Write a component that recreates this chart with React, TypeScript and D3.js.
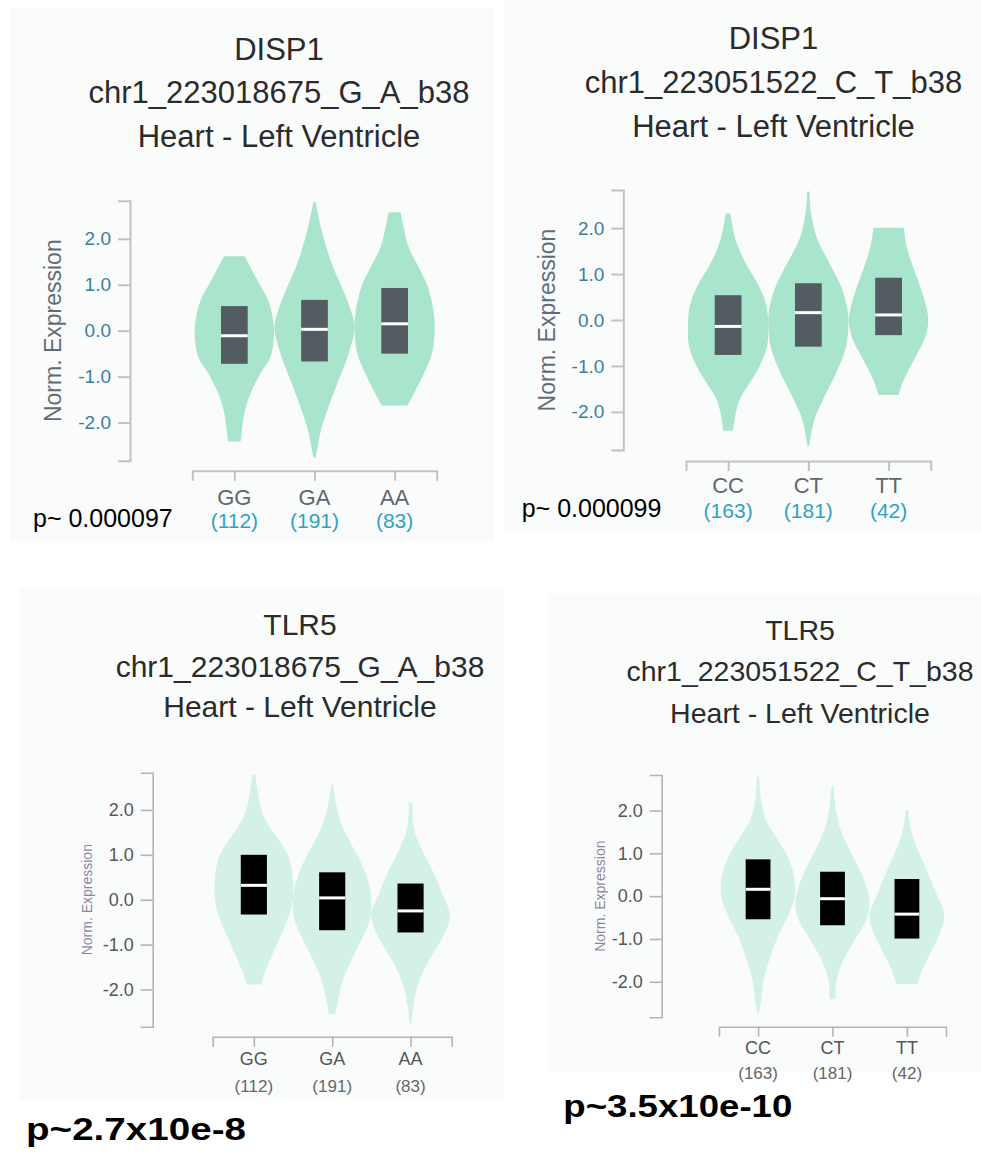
import React, { useEffect, useRef } from "react";
import * as d3 from "d3";

// ---- values ----
const tissue = "Heart - Left Ventricle";
const genes = ["DISP1", "DISP1", "TLR5", "TLR5"];
const variants = [
  "chr1_223018675_G_A_b38",
  "chr1_223051522_C_T_b38",
  "chr1_223018675_G_A_b38",
  "chr1_223051522_C_T_b38",
];
const genotypes = [
  ["GG", "GA", "AA"],
  ["CC", "CT", "TT"],
  ["GG", "GA", "AA"],
  ["CC", "CT", "TT"],
];
const sampleCounts = [
  [112, 191, 83],
  [163, 181, 42],
  [112, 191, 83],
  [163, 181, 42],
];
const pLabels = ["p~ 0.000097", "p~ 0.000099", "p~2.7x10e-8", "p~3.5x10e-10"];
const yTicks = [-2, -1, 0, 1, 2];
const yDomain = [-2.83, 2.83];

// violin outlines: [norm. expression, relative half width]
const violinsDisp1Ga = [
  [[1.62, 0.26], [1.09, 0.58], [0.73, 0.81], [0.37, 0.94], [-0.07, 0.99], [-0.57, 0.9], [-0.93, 0.65], [-1.37, 0.4], [-1.8, 0.25], [-2.41, 0.16]],
  [[2.8, 0.03], [2.18, 0.18], [1.46, 0.43], [0.95, 0.68], [0.51, 0.88], [0.08, 1.0], [-0.5, 0.85], [-1.08, 0.6], [-1.66, 0.35], [-2.1, 0.18], [-2.53, 0.08], [-2.76, 0.03]],
  [[2.58, 0.15], [1.82, 0.35], [1.38, 0.6], [0.95, 0.83], [0.37, 0.98], [0.01, 1.0], [-0.5, 0.93], [-0.93, 0.73], [-1.37, 0.48], [-1.63, 0.32]],
];
const violinsDisp1Ct = [
  [[2.32, 0.06], [1.74, 0.19], [1.23, 0.44], [0.72, 0.78], [0.29, 0.96], [-0.22, 1.0], [-0.58, 0.97], [-1.01, 0.78], [-1.38, 0.53], [-1.74, 0.28], [-2.03, 0.19], [-2.41, 0.12]],
  [[2.8, 0.03], [2.32, 0.07], [1.74, 0.23], [1.23, 0.53], [0.72, 0.82], [0.22, 0.98], [-0.07, 1.0], [-0.58, 0.94], [-1.16, 0.69], [-1.67, 0.4], [-2.17, 0.15], [-2.75, 0.02]],
  [[2.01, 0.38], [1.6, 0.45], [1.23, 0.58], [0.72, 0.79], [0.29, 0.94], [0.0, 0.99], [-0.36, 0.92], [-0.87, 0.63], [-1.3, 0.38], [-1.63, 0.25]],
];
const violinsTlr5Ga = [
  [[2.78, 0.04], [2.36, 0.11], [1.98, 0.2], [1.61, 0.41], [1.24, 0.71], [0.87, 0.92], [0.28, 1.0], [-0.02, 0.99], [-0.39, 0.88], [-0.83, 0.67], [-1.35, 0.41], [-1.72, 0.24], [-1.89, 0.19]],
  [[2.56, 0.03], [2.13, 0.1], [1.61, 0.27], [1.17, 0.53], [0.72, 0.79], [0.28, 0.96], [-0.02, 1.0], [-0.46, 0.96], [-0.9, 0.74], [-1.35, 0.49], [-1.79, 0.27], [-2.24, 0.15], [-2.55, 0.08]],
  [[2.17, 0.05], [1.61, 0.08], [1.17, 0.26], [0.65, 0.56], [0.13, 0.81], [-0.31, 1.0], [-0.61, 0.94], [-1.05, 0.68], [-1.5, 0.38], [-1.94, 0.17], [-2.39, 0.07], [-2.76, 0.02]],
];
const violinsTlr5Ct = [
  [[2.79, 0.03], [2.24, 0.08], [1.78, 0.21], [1.39, 0.48], [1.0, 0.75], [0.61, 0.93], [0.22, 1.0], [-0.09, 0.97], [-0.48, 0.79], [-0.95, 0.53], [-1.5, 0.3], [-1.96, 0.15], [-2.43, 0.08], [-2.76, 0.02]],
  [[2.57, 0.03], [2.09, 0.08], [1.62, 0.19], [1.15, 0.42], [0.69, 0.69], [0.22, 0.91], [-0.17, 1.0], [-0.56, 0.91], [-1.03, 0.59], [-1.5, 0.29], [-1.96, 0.11], [-2.41, 0.08]],
  [[2.01, 0.04], [1.62, 0.09], [1.23, 0.22], [0.69, 0.49], [0.14, 0.75], [-0.33, 0.98], [-0.56, 1.0], [-0.95, 0.85], [-1.42, 0.58], [-1.81, 0.37], [-2.06, 0.29]],
];
const violins = [violinsDisp1Ga, violinsDisp1Ct, violinsTlr5Ga, violinsTlr5Ct];

// boxes: [q1, median, q3]
const boxesDisp1Ga = [[-0.72, -0.11, 0.535], [-0.67, 0.03, 0.67], [-0.5, 0.15, 0.93]];
const boxesDisp1Ct = [[-0.76, -0.14, 0.54], [-0.58, 0.16, 0.8], [-0.33, 0.11, 0.92]];
const boxesTlr5Ga = [[-0.33, 0.32, 1.0], [-0.68, 0.04, 0.61], [-0.73, -0.25, 0.36]];
const boxesTlr5Ct = [[-0.54, 0.16, 0.86], [-0.68, -0.06, 0.57], [-0.99, -0.42, 0.4]];
const boxes = [boxesDisp1Ga, boxesDisp1Ct, boxesTlr5Ga, boxesTlr5Ct];

// ---- layout of the four panels ----
const top = {
  violin: "#a9e5cc", box: "#525c62", tick: "#3b7e9c", yLabel: "#5f6c79",
  cat: "#5f6670", count: "#2fa2c3", axis: "#c2c2c2", axisW: 2,
  tickFont: 19, yLabelFont: 23, catFont: 22, countFont: 21,
  pFont: 25, pWeight: 400,
};
const bottom = {
  violin: "#d3f1e4", box: "#000000", tick: "#55555a", yLabel: "#8d84a2",
  cat: "#555555", count: "#666666", axis: "#b4b4b4", axisW: 1.6,
  tickFont: 18, yLabelFont: 14, catFont: 18, countFont: 17,
  pFont: 32, pWeight: 700,
};
const panels = [
  { st: top, bg: [10, 8, 484, 534], titleX: 279, titleY: [60, 103.3, 146.7], titleFont: 31,
    axX: 130, yTop: 200.7, yBot: 460.7, axY: 470.7, x0: 192.3, x1: 436.7,
    yLabelX: 53, catDy: 34, countDy: 57, pX: 33, pY: 527, pLen: 0 },
  { st: top, bg: [505, 0, 476, 533], titleX: 773.5, titleY: [49.3, 92.7, 136.7], titleFont: 31,
    axX: 623.3, yTop: 190, yBot: 450, axY: 461, x0: 686, x1: 930.7,
    yLabelX: 546.7, catDy: 32, countDy: 57, pX: 521.7, pY: 516.7, pLen: 0 },
  { st: bottom, bg: [19, 588, 484, 512], titleX: 300, titleY: [635, 676.7, 716.7], titleFont: 30,
    axX: 152.7, yTop: 772.7, yBot: 1026.7, axY: 1036.7, x0: 212.7, x1: 451.7,
    yLabelX: 87.3, catDy: 28, countDy: 55, pX: 26, pY: 1140, pLen: 220 },
  { st: bottom, bg: [547, 594, 434, 479], titleX: 800, titleY: [640, 680.7, 722.7], titleFont: 28.5,
    axX: 661.7, yTop: 775, yBot: 1017.3, axY: 1026.7, x0: 719, x1: 946,
    yLabelX: 600, catDy: 27, countDy: 52, pX: 563.3, pY: 1116.7, pLen: 229 },
];

const font = "'Liberation Sans', Arial, sans-serif";

function Panel({ i }: { i: number }) {
  const p = panels[i];
  const st = p.st;
  const yRef = useRef<SVGGElement>(null);
  const xRef = useRef<SVGGElement>(null);

  const y = d3.scaleLinear().domain(yDomain).range([p.yBot, p.yTop]);
  const x = d3.scalePoint<string>().domain(genotypes[i]).range([p.x0, p.x1]).padding(0.525);
  const step = x.step();
  const w = d3.scaleLinear().domain([0, 1]).range([0, step / 2]);
  const boxHalf = step / 6;

  const area = d3
    .area<number[]>()
    .curve(d3.curveCatmullRom)
    .y((d) => y(d[0]))
    .x0((d) => -w(d[1]))
    .x1((d) => w(d[1]));

  useEffect(() => {
    const ya = d3.select(yRef.current!);
    ya.selectAll("*").remove();
    ya.call(
      d3.axisLeft(y).tickValues(yTicks).tickSize(12).tickPadding(7).tickFormat((d) => (+d).toFixed(1))
    );
    ya.selectAll("path,line").attr("stroke", st.axis).attr("stroke-width", st.axisW);
    ya.selectAll("text")
      .attr("fill", st.tick)
      .style("font-size", st.tickFont + "px")
      .style("font-family", font);

    const xa = d3.select(xRef.current!);
    xa.selectAll("*").remove();
    xa.call(d3.axisBottom(x).tickSize(10).tickFormat(() => ""));
    xa.selectAll("path,line").attr("stroke", st.axis).attr("stroke-width", st.axisW);
  }, [i]);

  const yMid = (p.yTop + p.yBot) / 2;
  const [bx, by, bw, bh] = p.bg;

  return (
    <g>
      <rect x={bx} y={by} width={bw} height={bh} fill="#fafcfc" />
      <g fill="#2b2b2b" fontSize={p.titleFont} textAnchor="middle" fontFamily={font}>
        <text x={p.titleX} y={p.titleY[0]}>{genes[i]}</text>
        <text x={p.titleX} y={p.titleY[1]}>{variants[i]}</text>
        <text x={p.titleX} y={p.titleY[2]}>{tissue}</text>
      </g>
      <g ref={yRef} transform={`translate(${p.axX},0)`} />
      <g ref={xRef} transform={`translate(0,${p.axY})`} />
      <text
        transform={`translate(${p.yLabelX},${yMid}) rotate(-90)`}
        textAnchor="middle"
        dy="0.35em"
        fill={st.yLabel}
        fontSize={st.yLabelFont}
        fontFamily={font}
      >
        Norm. Expression
      </text>
      {genotypes[i].map((g, k) => {
        const cx = x(g)!;
        const [q1, med, q3] = boxes[i][k];
        return (
          <g key={g}>
            <path d={area(violins[i][k] as number[][])!} transform={`translate(${cx},0)`} fill={st.violin} />
            <rect x={cx - boxHalf} y={y(q3)} width={boxHalf * 2} height={y(q1) - y(q3)} fill={st.box} />
            <line x1={cx - boxHalf} x2={cx + boxHalf} y1={y(med)} y2={y(med)} stroke="#ffffff" strokeWidth={3} />
            <text x={cx} y={p.axY + p.catDy} textAnchor="middle" fill={st.cat} fontSize={st.catFont} fontFamily={font}>
              {g}
            </text>
            <text x={cx} y={p.axY + p.countDy} textAnchor="middle" fill={st.count} fontSize={st.countFont} fontFamily={font}>
              ({sampleCounts[i][k]})
            </text>
          </g>
        );
      })}
      <text
        x={p.pX}
        y={p.pY}
        fill="#000"
        fontSize={st.pFont}
        fontWeight={st.pWeight}
        fontFamily={font}
        {...(p.pLen ? { textLength: p.pLen, lengthAdjust: "spacingAndGlyphs" } : {})}
      >
        {pLabels[i]}
      </text>
    </g>
  );
}

export default function App() {
  return (
    <svg
      width={981}
      height={1154}
      style={{ position: "absolute", left: 0, top: 0, background: "#ffffff" }}
    >
      {panels.map((_, i) => (
        <Panel key={i} i={i} />
      ))}
    </svg>
  );
}
